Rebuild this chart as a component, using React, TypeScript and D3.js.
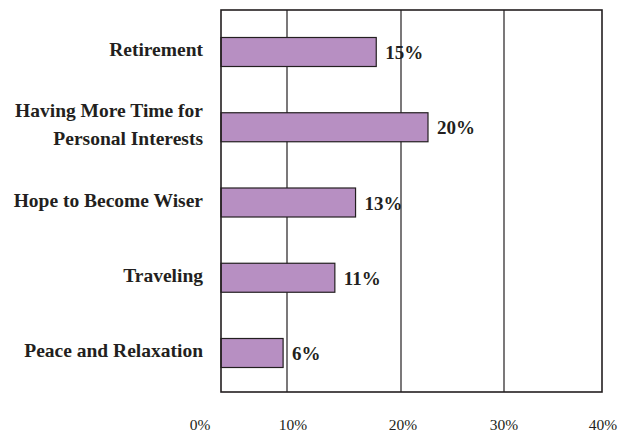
import React from "react";
import * as d3 from "d3";

const categories = [
  "Retirement",
  "Having More Time for\nPersonal Interests",
  "Hope to Become Wiser",
  "Traveling",
  "Peace and Relaxation",
];
const values = [15, 20, 13, 11, 6];
const valueLabels = ["15%", "20%", "13%", "11%", "6%"];
const tickValues = [0, 10, 20, 30, 40];
const tickLabels = ["0%", "10%", "20%", "30%", "40%"];

const W = 619;
const H = 432;
const FONT = "'Liberation Serif', 'DejaVu Serif', serif";
const INK = "#231f20";

export default function App() {
  const plotLeft = 221;
  const plotRight = 602;
  const plotTop = 10;
  const plotBottom = 392;

  // bar length scale
  const x = d3.scaleLinear().domain([0, 40]).range([plotLeft, plotLeft + 414]);
  // gridline positions (frame)
  const xGrid = d3.scaleLinear().domain(tickValues).range([plotLeft, 287, 401, 504, plotRight]);
  // tick label positions
  const xLab = d3.scaleLinear().domain(tickValues).range([200, 293, 403, 504, 603]);

  const y = d3.scalePoint<string>().domain(categories).range([52, 353]);
  const barH = 29;

  return (
    <svg
      width={W}
      height={H}
      style={{ position: "absolute", left: 0, top: 0, background: "#fff" }}
      fontFamily={FONT}
    >
      {/* gridlines */}
      {tickValues.slice(1, -1).map((t) => (
        <line
          key={t}
          x1={xGrid(t)}
          x2={xGrid(t)}
          y1={plotTop}
          y2={plotBottom}
          stroke={INK}
          strokeWidth={1.2}
        />
      ))}
      {/* bars */}
      {categories.map((c, i) => (
        <rect
          key={c}
          x={x(0)}
          y={(y(c) as number) - barH / 2}
          width={x(values[i]) - x(0)}
          height={barH}
          fill="#b78fc2"
          stroke={INK}
          strokeWidth={1.2}
        />
      ))}
      {/* frame */}
      <rect
        x={plotLeft}
        y={plotTop}
        width={plotRight - plotLeft}
        height={plotBottom - plotTop}
        fill="none"
        stroke={INK}
        strokeWidth={1.6}
      />
      {/* value labels */}
      {categories.map((c, i) => (
        <text
          key={c}
          x={x(values[i]) + 9}
          y={(y(c) as number) + 7}
          fontSize={19}
          fontWeight="bold"
          fill={INK}
        >
          {valueLabels[i]}
        </text>
      ))}
      {/* category labels */}
      {categories.map((c) => {
        const lines = c.split("\n");
        const cy = y(c) as number;
        const lh = 28;
        const start = cy - ((lines.length - 1) * lh) / 2 - 3;
        return (
          <text
            key={c}
            textAnchor="end"
            fontSize={19.5}
            fontWeight="bold"
            fill={INK}
          >
            {lines.map((l, k) => (
              <tspan key={k} x={203} y={start + k * lh + 7}>
                {l}
              </tspan>
            ))}
          </text>
        );
      })}
      {/* tick labels */}
      {tickValues.map((t, i) => (
        <text
          key={t}
          x={xLab(t)}
          y={430}
          textAnchor="middle"
          fontSize={15.5}
          fill={INK}
        >
          {tickLabels[i]}
        </text>
      ))}
    </svg>
  );
}
